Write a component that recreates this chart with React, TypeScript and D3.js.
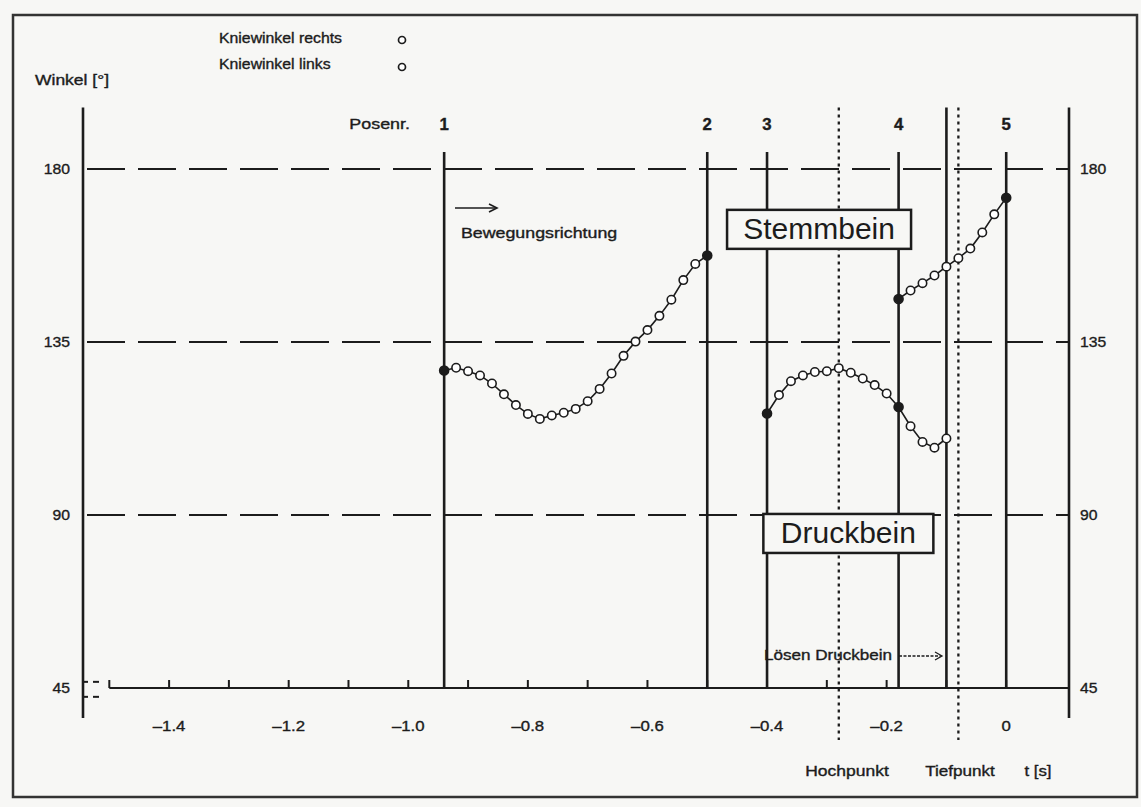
import * as d3 from "d3";
import type { ReactNode } from "react";

const W = 1141;
const H = 807;

// time axis [s]
const tickTimes = [-1.5, -1.4, -1.3, -1.2, -1.1, -1.0, -0.9, -0.8, -0.7, -0.6, -0.5, -0.4, -0.3, -0.2, -0.1, 0.0];
const tickLabelTimes = [-1.4, -1.2, -1.0, -0.8, -0.6, -0.4, -0.2, 0];
const tickLabels = ["–1.4", "–1.2", "–1.0", "–0.8", "–0.6", "–0.4", "–0.2", "0"];

// angle axis [°]
const gridAngles = [180, 135, 90];
const angleTicks = [180, 135, 90, 45];
const angleLabels = ["180", "135", "90", "45"];

// pose lines
const poseNames = ["1", "2", "3", "4", "5"];
const poseTimes = [-0.94, -0.5, -0.4, -0.18, 0.0];
const fullLineTimes = [-0.1];
const eventTimes = [-0.28, -0.08];
const eventNames = ["Hochpunkt", "Tiefpunkt"];

// Kniewinkel, Abschnitt Pose 1 -> 2
const seg1T = [-0.94, -0.92, -0.9, -0.88, -0.86, -0.84, -0.82, -0.8, -0.78, -0.76, -0.74, -0.72, -0.7, -0.68, -0.66, -0.64, -0.62, -0.6, -0.58, -0.56, -0.54, -0.52, -0.5];
const seg1V = [127.6, 128.3, 127.4, 126.3, 124.2, 121.4, 118.6, 116.3, 115.0, 115.9, 116.6, 117.6, 119.6, 122.8, 126.8, 131.4, 135.1, 138.1, 141.8, 146.0, 151.1, 155.3, 157.5];

// Abschnitt Pose 3 -> Lösen Druckbein
const seg2T = [-0.4, -0.38, -0.36, -0.34, -0.32, -0.3, -0.28, -0.26, -0.24, -0.22, -0.2, -0.18, -0.16, -0.14, -0.12, -0.1];
const seg2V = [116.4, 121.2, 124.8, 126.3, 127.2, 127.4, 128.2, 127.0, 125.5, 123.8, 121.6, 118.1, 113.1, 109.0, 107.5, 109.9];

// Abschnitt Pose 4 -> 5
const seg3T = [-0.18, -0.16, -0.14, -0.12, -0.1, -0.08, -0.06, -0.04, -0.02, 0.0];
const seg3V = [146.2, 148.4, 150.3, 152.3, 154.6, 156.8, 159.3, 163.5, 168.2, 172.5];

const segments = [
  { t: seg1T, v: seg1V },
  { t: seg2T, v: seg2V },
  { t: seg3T, v: seg3V },
];

const INK = "#1c1c1c";
const BG = "#f7f7f5";
const FONT = "'Liberation Sans', Arial, sans-serif";

// scanned labels are wide and heavy: stretch horizontally around the anchor
function Label({
  x,
  y,
  sx = 1.25,
  size = 14,
  anchor = "start",
  bold = false,
  children,
}: {
  x: number;
  y: number;
  sx?: number;
  size?: number;
  anchor?: "start" | "middle" | "end";
  bold?: boolean;
  children: ReactNode;
}) {
  return (
    <text
      transform={`translate(${x},${y}) scale(${sx},1)`}
      textAnchor={anchor}
      fontSize={size}
      fontWeight={bold ? "bold" : "normal"}
      fill={INK}
      stroke={INK}
      strokeWidth={0.35}
    >
      {children}
    </text>
  );
}

export default function App() {
  const x = d3.scaleLinear().domain([-1.544, 0.105]).range([83, 1069]);
  const y = d3.scaleLinear().domain([45, 180]).range([688, 169]);
  const line = d3
    .line<[number, number]>()
    .x((d) => x(d[0]))
    .y((d) => y(d[1]));

  const axisTop = 196;
  const axisBottom = 37.2;
  const poseTop = 184.4;

  const stemm = { t: -0.313, v: 164.3, w: 184, h: 39 };
  const druck = { t: -0.264, v: 85.2, w: 170, h: 39 };

  return (
    <svg
      width={W}
      height={H}
      viewBox={`0 0 ${W} ${H}`}
      style={{ position: "absolute", left: 0, top: 0, background: BG }}
      fontFamily={FONT}
    >
      {/* frame */}
      <rect x={13} y={15} width={1124} height={782} fill="none" stroke="#333" strokeWidth={2.5} />

      {/* legend + titles */}
      <Label x={35} y={85} sx={1.25}>Winkel [°]</Label>
      <Label x={219} y={43} sx={1.13}>Kniewinkel rechts</Label>
      <Label x={219} y={69} sx={1.13}>Kniewinkel links</Label>
      <Label x={410} y={129} sx={1.28} anchor="end">Posenr.</Label>
      <circle cx={402} cy={40} r={3.5} fill="#fff" stroke={INK} strokeWidth={1.7} />
      <circle cx={402} cy={67} r={3.5} fill="#fff" stroke={INK} strokeWidth={1.7} />

      {/* dashed angle grid */}
      {gridAngles.map((a) => (
        <line
          key={a}
          x1={x.range()[0]}
          x2={x.range()[1]}
          y1={y(a)}
          y2={y(a)}
          stroke={INK}
          strokeWidth={2.2}
          strokeDasharray="38,13"
          strokeDashoffset={-4}
        />
      ))}

      {/* time axis at 45° */}
      <line x1={x(-1.5)} x2={x.range()[1]} y1={y(45)} y2={y(45)} stroke={INK} strokeWidth={2.2} />
      {tickTimes.map((t) => (
        <line key={t} x1={x(t)} x2={x(t)} y1={y(45)} y2={y(45) - 8} stroke={INK} strokeWidth={2} />
      ))}
      {tickLabelTimes.map((t, i) => (
        <Label key={t} x={x(t)} y={731} sx={1.12} size={15} anchor="middle">
          {tickLabels[i]}
        </Label>
      ))}

      {/* axis break marks */}
      {[46.6, 42.7].map((a) => (
        <g key={a} stroke={INK} strokeWidth={2}>
          <line x1={x.range()[0] + 1} x2={x.range()[0] + 5} y1={y(a)} y2={y(a)} />
          <line x1={x.range()[0] + 10} x2={x.range()[0] + 16} y1={y(a)} y2={y(a)} />
        </g>
      ))}

      {/* vertical axes */}
      {x.range().map((px) => (
        <line key={px} x1={px} x2={px} y1={y(axisTop)} y2={y(axisBottom)} stroke={INK} strokeWidth={2.6} />
      ))}
      {angleTicks.map((a, i) => (
        <g key={a}>
          <Label x={70} y={y(a) + 5} sx={1.05} size={15} anchor="end">{angleLabels[i]}</Label>
          <Label x={1080} y={y(a) + 5} sx={1.05} size={15}>{angleLabels[i]}</Label>
        </g>
      ))}

      {/* pose lines */}
      {poseTimes.map((t, i) => (
        <g key={t}>
          <line x1={x(t)} x2={x(t)} y1={y(poseTop)} y2={y(45)} stroke={INK} strokeWidth={2.6} />
          <Label x={x(t)} y={130} sx={1.05} size={16} anchor="middle" bold>
            {poseNames[i]}
          </Label>
        </g>
      ))}
      {fullLineTimes.map((t) => (
        <line key={t} x1={x(t)} x2={x(t)} y1={y(axisTop)} y2={y(45)} stroke={INK} strokeWidth={2.6} />
      ))}
      {eventTimes.map((t, i) => (
        <line
          key={t}
          x1={x(t)}
          x2={x(t)}
          y1={y(axisTop)}
          y2={y(31.5)}
          stroke={INK}
          strokeWidth={2.3}
          strokeDasharray="3,4"
        />
      ))}
      <Label x={847} y={776} sx={1.25} anchor="middle">{eventNames[0]}</Label>
      <Label x={960} y={776} sx={1.22} anchor="middle">{eventNames[1]}</Label>
      <Label x={1038} y={776} sx={1.2} anchor="middle">t [s]</Label>

      {/* knee angle curves */}
      {segments.map((s, si) => {
        const pts = s.t.map((t, i) => [t, s.v[i]] as [number, number]);
        return (
          <g key={si}>
            <path d={line(pts) ?? ""} fill="none" stroke={INK} strokeWidth={1.6} />
            {pts.map((p, i) => {
              const filled = poseTimes.some((pt) => Math.abs(pt - p[0]) < 1e-6);
              return (
                <circle
                  key={i}
                  cx={x(p[0])}
                  cy={y(p[1])}
                  r={filled ? 4.5 : 4.2}
                  fill={filled ? INK : "#fff"}
                  stroke={INK}
                  strokeWidth={1.6}
                />
              );
            })}
          </g>
        );
      })}

      {/* Bewegungsrichtung */}
      <g stroke={INK} strokeWidth={1.6} fill="none">
        <line x1={455} x2={496} y1={208} y2={208} />
        <path d="M489,204 L497,208 L489,212" />
      </g>
      <Label x={461} y={238} sx={1.27}>Bewegungsrichtung</Label>

      {/* Lösen Druckbein */}
      <Label x={764} y={660} sx={1.22}>Lösen Druckbein</Label>
      <g stroke={INK} strokeWidth={1.3} fill="none">
        <line x1={899} x2={941} y1={656} y2={656} strokeDasharray="3,1.5" />
        <path d="M935,652 L942,656 L935,660" />
      </g>

      {/* leg boxes */}
      {[
        { b: stemm, label: "Stemmbein" },
        { b: druck, label: "Druckbein" },
      ].map(({ b, label }) => (
        <g key={label}>
          <rect
            x={x(b.t) - b.w / 2}
            y={y(b.v) - b.h / 2}
            width={b.w}
            height={b.h}
            fill={BG}
            stroke={INK}
            strokeWidth={2.5}
          />
          <text x={x(b.t)} y={y(b.v) + 10} textAnchor="middle" fontSize={30} fill={INK}>
            {label}
          </text>
        </g>
      ))}
    </svg>
  );
}
